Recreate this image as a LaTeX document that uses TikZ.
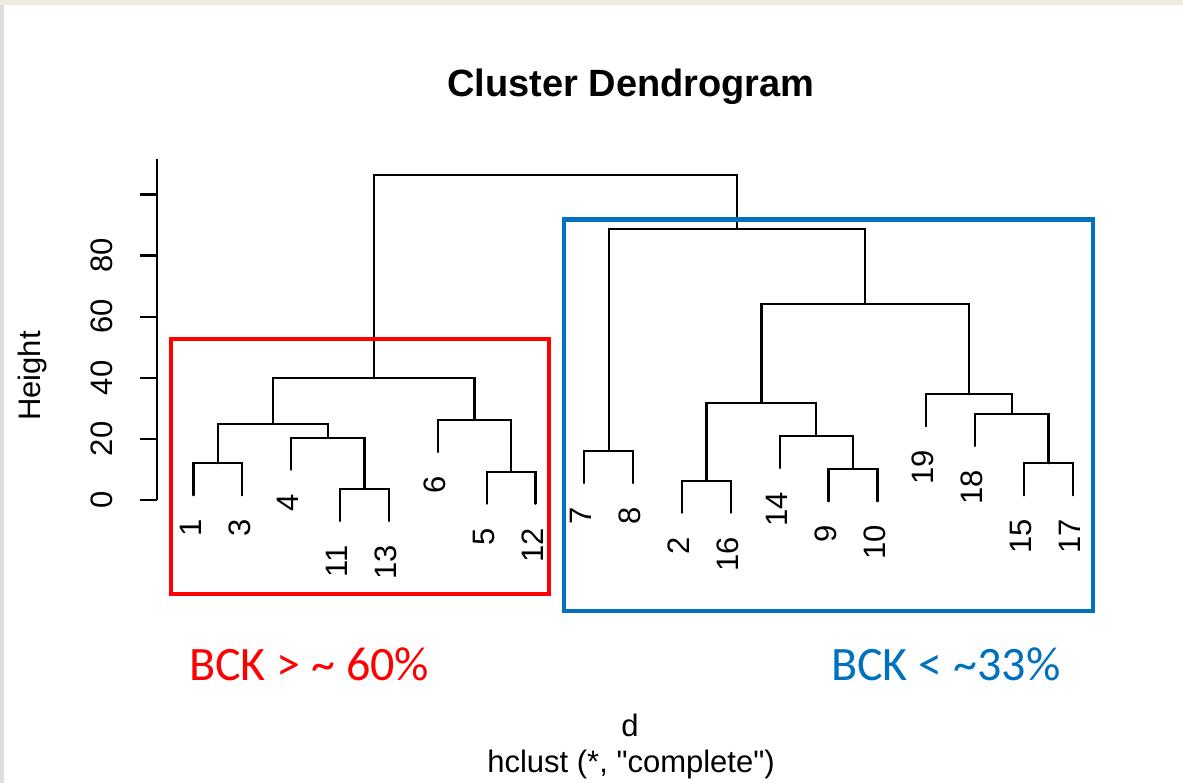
\documentclass[tikz,border=0pt]{standalone}
\usepackage{fontspec}
\setmainfont{Liberation Sans}[Ligatures=TeXOff]
\newfontfamily\calibrifont{Carlito}
\definecolor{boxred}{HTML}{FF0000}
\definecolor{boxblue}{HTML}{0070C0}
\definecolor{topstrip}{HTML}{EEEBE0}
\definecolor{sidestrip}{HTML}{DEDEDE}
\begin{document}
\begin{tikzpicture}[x=1pt,y=-1pt,
  den/.style={line width=2.2pt, black, line cap=round, line join=miter},
  axisline/.style={line width=2.2pt, black},
  leaflabel/.style={rotate=90, anchor=east, inner sep=0pt, font=\fontsize{31}{37}\selectfont},
  ticklabel/.style={rotate=90, anchor=base, inner sep=0pt, font=\fontsize{31}{37}\selectfont},
  plaintext/.style={anchor=base, inner sep=0pt, font=\fontsize{31}{37}\selectfont},
  groupbox/.style={line width=4.5pt, line join=miter},
  grouplabel/.style={anchor=base west, inner sep=0pt, font=\calibrifont\fontsize{48}{56}\selectfont}]
% page
\fill[white] (0,0) rectangle (1183,783);
\useasboundingbox (0,0) rectangle (1183,783);
\fill[topstrip] (0,0) rectangle (1183,5);
\fill[sidestrip] (0,5) rectangle (3.5,783);

% title and axis texts
\node[plaintext, font=\bfseries\fontsize{38}{45}\selectfont] (title) at (631,97) {Cluster Dendrogram};
\node[ticklabel] (ylab) at (40,376) {Height};
\node[plaintext] (xlab) at (630,736) {d};
\node[plaintext] (sub) at (631,772) {hclust (*, "complete")};

% y axis
\coordinate (ax0) at (157,500);
\coordinate (axtop) at (157,159);
\draw[axisline] (ax0) -- (axtop);
\foreach \v/\yy in {0/500,20/438.9,40/377.8,60/316.7,80/255.6} {
  \coordinate (t\v) at (157,\yy);
  \draw[axisline] (t\v) -- ++(-17,0);
  \node[ticklabel] (tl\v) at (112.5,\yy) {\v};
}
\coordinate (t100) at (157,194.5);
\draw[axisline] (t100) -- ++(-17,0);

% leaves (bottom ends of leaf segments)
\coordinate (l1)  at (193.5,495.3);
\coordinate (l3)  at (242.35,495.3);
\coordinate (l4)  at (291.2,469.7);
\coordinate (l11) at (340.05,521);
\coordinate (l13) at (388.9,521);
\coordinate (l6)  at (437.75,452);
\coordinate (l5)  at (486.6,503.7);
\coordinate (l12) at (535.45,503.7);
\coordinate (l7)  at (584.3,483);
\coordinate (l8)  at (633.15,483);
\coordinate (l2)  at (682.0,512.7);
\coordinate (l16) at (730.85,512.7);
\coordinate (l14) at (779.7,468);
\coordinate (l9)  at (828.55,501.3);
\coordinate (l10) at (877.4,501.3);
\coordinate (l19) at (926.25,426.3);
\coordinate (l18) at (975.1,446);
\coordinate (l15) at (1023.95,495.3);
\coordinate (l17) at (1072.8,495.3);

% merges
\coordinate (m13)   at (217.9,463.3);
\coordinate (m1113) at (364.5,489);
\coordinate (m4)    at (327.8,437.7);
\coordinate (mA)    at (272.9,424);
\coordinate (m512)  at (511.0,471.7);
\coordinate (m6)    at (474.4,420);
\coordinate (mL)    at (373.6,378.3);
\coordinate (m78)   at (608.7,451);
\coordinate (m216)  at (706.4,480.7);
\coordinate (m910)  at (853.0,469.3);
\coordinate (m14)   at (816.3,436);
\coordinate (mB)    at (761.4,402.7);
\coordinate (m1517) at (1048.4,463.3);
\coordinate (m18)   at (1011.7,414);
\coordinate (m19)   at (969.0,394.3);
\coordinate (mC)    at (865.2,304);
\coordinate (mR)    at (737.0,229);
\coordinate (mtop)  at (555.3,175.3);

% dendrogram branches
\draw[den] (l1) |- (m13) -| (l3);
\draw[den] (l11) |- (m1113) -| (l13);
\draw[den] (l4) |- (m4) -| (m1113);
\draw[den] (m13) |- (mA) -| (m4);
\draw[den] (l5) |- (m512) -| (l12);
\draw[den] (l6) |- (m6) -| (m512);
\draw[den] (mA) |- (mL) -| (m6);
\draw[den] (l7) |- (m78) -| (l8);
\draw[den] (l2) |- (m216) -| (l16);
\draw[den] (l9) |- (m910) -| (l10);
\draw[den] (l14) |- (m14) -| (m910);
\draw[den] (m216) |- (mB) -| (m14);
\draw[den] (l15) |- (m1517) -| (l17);
\draw[den] (l18) |- (m18) -| (m1517);
\draw[den] (l19) |- (m19) -| (m18);
\draw[den] (mB) |- (mC) -| (m19);
\draw[den] (m78) |- (mR) -| (mC);
\draw[den] (mL) |- (mtop) -| (mR);

% leaf labels
\foreach \n in {1,3,4,11,13,6,5,12,7,8,2,16,14,9,10,19,18,15,17} {
  \node[leaflabel] (lab\n) at ([xshift=-3pt,yshift=-24pt]l\n) {\n};
}

% group boxes
\coordinate (rA) at (171,339);
\coordinate (rB) at (549,594);
\draw[groupbox, boxred] (rA) rectangle (rB);
\coordinate (bA) at (564,219.5);
\coordinate (bB) at (1093,611);
\draw[groupbox, boxblue] (bA) rectangle (bB);

\node[grouplabel, text=boxred] (redlab) at (189,680) {BCK > \char`~{} 60\%};
\node[grouplabel, text=boxblue] (bluelab) at (831,680) {BCK < \char`~33\%};
\end{tikzpicture}
\end{document}
